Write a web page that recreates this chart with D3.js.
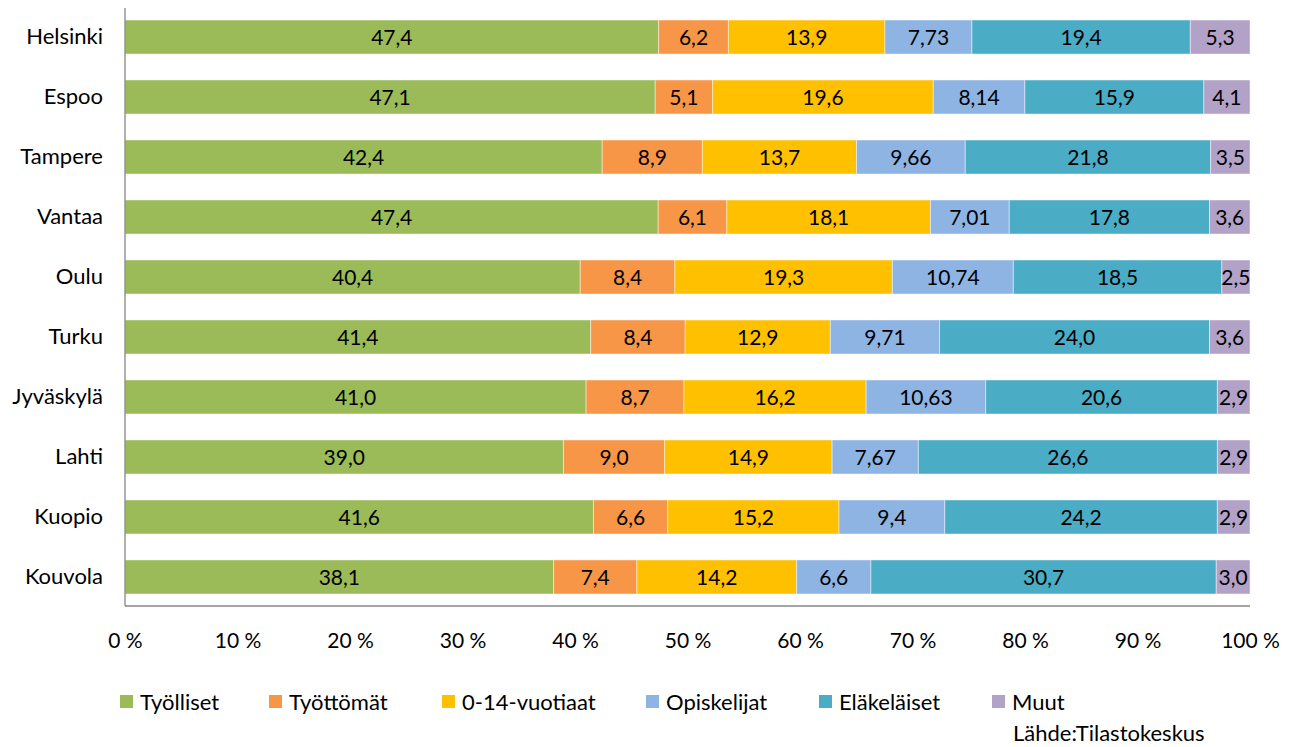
<!DOCTYPE html>
<html>
<head>
<meta charset="utf-8">
<script src="https://cdn.jsdelivr.net/npm/d3@7"></script>
<style>
  body { margin: 0; background: #fff; }
  text { font-family: Lato, "Open Sans", sans-serif; fill: #000; }
</style>
</head>
<body>
<div id="chart"></div>
<script>
const width = 1295, height = 747;

// cities, top to bottom
const cities = ["Helsinki", "Espoo", "Tampere", "Vantaa", "Oulu", "Turku", "Jyväskylä", "Lahti", "Kuopio", "Kouvola"];

const seriesNames = ["Työlliset", "Työttömät", "0-14-vuotiaat", "Opiskelijat", "Eläkeläiset", "Muut"];
const seriesColors = ["#9BBB59", "#F79646", "#FFC000", "#8EB4E3", "#4BACC6", "#B3A2C7"];

const tyolliset   = [47.4, 47.1, 42.4, 47.4, 40.4, 41.4, 41.0, 39.0, 41.6, 38.1];
const tyottomat   = [6.2, 5.1, 8.9, 6.1, 8.4, 8.4, 8.7, 9.0, 6.6, 7.4];
const lapset      = [13.9, 19.6, 13.7, 18.1, 19.3, 12.9, 16.2, 14.9, 15.2, 14.2];
const opiskelijat = [7.73, 8.14, 9.66, 7.01, 10.74, 9.71, 10.63, 7.67, 9.4, 6.6];
const elakelaiset = [19.4, 15.9, 21.8, 17.8, 18.5, 24.0, 20.6, 26.6, 24.2, 30.7];
const muut        = [5.3, 4.1, 3.5, 3.6, 2.5, 3.6, 2.9, 2.9, 2.9, 3.0];

const xTicks = [0, 10, 20, 30, 40, 50, 60, 70, 80, 90, 100];
const source = "Lähde:Tilastokeskus";

const allSeries = [tyolliset, tyottomat, lapset, opiskelijat, elakelaiset, muut];

// build rows, normalized to 100 % like a 100 % stacked bar
const rows = cities.map((c, i) => {
  let r = { city: c };
  seriesNames.forEach((s, j) => r[s] = allSeries[j][i]);
  return r;
});

const stacked = d3.stack()
  .keys(seriesNames)
  .offset(d3.stackOffsetExpand)(rows);

const x = d3.scaleLinear().domain([0, 1]).range([125, 1250]);
const y = d3.scaleBand().domain(cities).range([7, 607]).paddingInner(0.433).paddingOuter(0.217);

function fmt(v) {
  let s = (Math.round(v * 10) / 10 === v) ? v.toFixed(1) : String(v);
  return s.replace(".", ",");
}

let svg = d3.select("#chart")
  .append("svg")
    .attr("width", width)
    .attr("height", height);

let layers = svg.selectAll("g.layer").data(stacked)
  .enter()
    .append("g")
    .attr("class", "layer")
    .attr("fill", (d, i) => seriesColors[i]);

layers.selectAll("rect").data(d => d)
  .enter()
    .append("rect")
    .attr("x", d => x(d[0]))
    .attr("y", d => y(d.data.city))
    .attr("width", d => x(d[1]) - x(d[0]))
    .attr("height", y.bandwidth())
    .attr("stroke", "#fff")
    .attr("stroke-opacity", 0.45)
    .attr("stroke-width", 1);

layers.selectAll("text.val").data((d, i) => d.map(p => ({ p: p, key: d.key })))
  .enter()
    .append("text")
    .attr("class", "val")
    .attr("x", d => (x(d.p[0]) + x(d.p[1])) / 2)
    .attr("y", d => y(d.p.data.city) + y.bandwidth() / 2)
    .attr("dy", "0.36em")
    .attr("text-anchor", "middle")
    .style("font-size", "21px")
    .text(d => fmt(d.p.data[d.key]));

// axes
let yAxis = svg.append("g")
  .attr("transform", "translate(125,0)")
  .call(d3.axisLeft(y).tickSize(0).tickPadding(22));
yAxis.select(".domain").attr("d", "M0,8V606").attr("stroke", "#868686").attr("stroke-width", 1.3);
yAxis.selectAll("text").style("font-size", "22px");

let xAxis = svg.append("g")
  .attr("transform", "translate(0,606)")
  .call(d3.axisBottom(x).tickValues(xTicks.map(t => t / 100)).tickSize(0).tickPadding(27)
    .tickFormat(t => Math.round(t * 100) + " %"));
xAxis.select(".domain").attr("d", "M125,0H1250").attr("stroke", "#868686").attr("stroke-width", 1.3);
xAxis.selectAll("text").style("font-size", "21px");

// legend
const legendX = [120, 269, 442, 646, 819, 992];
let legend = svg.selectAll("g.leg").data(seriesNames)
  .enter()
    .append("g")
    .attr("class", "leg")
    .attr("transform", (d, i) => "translate(" + legendX[i] + ",695)");
legend.append("rect")
  .attr("width", 13).attr("height", 13)
  .attr("fill", (d, i) => seriesColors[i]);
legend.append("text")
  .attr("x", 20)
  .attr("y", 7)
  .attr("dy", "0.36em")
  .style("font-size", "22px")
  .text(d => d);

svg.append("text")
  .attr("x", 1013)
  .attr("y", 733)
  .attr("dy", "0.36em")
  .style("font-size", "22px")
  .text(source);
</script>
</body>
</html>
